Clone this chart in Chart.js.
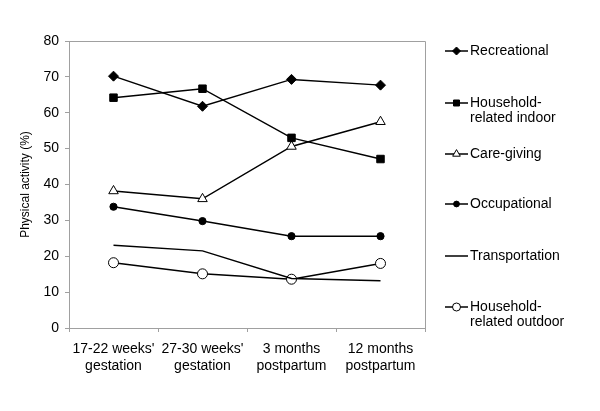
<!DOCTYPE html>
<html>
<head>
<meta charset="utf-8">
<script src="https://cdn.jsdelivr.net/npm/chart.js@4/dist/chart.umd.min.js"></script>
<style>
  html, body { margin: 0; padding: 0; background: #fff; }
  #wrap { width: 600px; height: 411px; }
</style>
</head>
<body>
<div id="wrap"><canvas id="chart" width="600" height="411"></canvas></div>
<script>
const categories = [["17-22 weeks'", "gestation"], ["27-30 weeks'", "gestation"], ["3 months", "postpartum"], ["12 months", "postpartum"]];
const recreational = [70.2, 61.8, 69.3, 67.7];
const householdIndoor = [64.2, 66.7, 53.0, 47.1];
const careGiving = [38.2, 36.0, 50.6, 57.5];
const occupational = [33.8, 29.8, 25.6, 25.6];
const transportation = [23.1, 21.5, 13.8, 13.2];
const householdOutdoor = [18.2, 15.1, 13.6, 18.0];
const yTicks = [0, 10, 20, 30, 40, 50, 60, 70, 80];

const legendNames = [["Recreational"], ["Household-", "related indoor"], ["Care-giving"], ["Occupational"], ["Transportation"], ["Household-", "related outdoor"]];
const legendY = [51, 103, 154, 204, 256, 307];

const font = "Liberation Sans, Arial, sans-serif";
const axisGray = "#a0a0a0";

function series(label, data, style, radius, fill) {
    return {
        label: label,
        data: data,
        borderColor: "#000",
        borderWidth: 1.5,
        pointStyle: style,
        pointRadius: radius,
        pointHoverRadius: radius,
        pointBackgroundColor: fill,
        pointBorderColor: "#000",
        pointBorderWidth: 1,
        tension: 0,
        fill: false
    };
}

// legend + top/right frame drawn by hand
const extras = {
    id: "extras",
    afterDraw(chart) {
        const ctx = chart.ctx;
        const a = chart.chartArea;
        ctx.save();
        ctx.strokeStyle = axisGray;
        ctx.lineWidth = 1;
        ctx.beginPath();
        ctx.moveTo(a.left, a.top + 0.5);
        ctx.lineTo(a.right + 0.5, a.top + 0.5);
        ctx.lineTo(a.right + 0.5, a.bottom);
        ctx.stroke();

        chart.data.datasets.forEach((ds, i) => {
            const y = legendY[i];
            ctx.strokeStyle = "#000";
            ctx.lineWidth = 1.5;
            ctx.beginPath();
            ctx.moveTo(445, y);
            ctx.lineTo(468, y);
            ctx.stroke();
            if (ds.pointRadius > 0) {
                ctx.fillStyle = ds.pointBackgroundColor;
                ctx.strokeStyle = "#000";
                ctx.lineWidth = 1;
                Chart.helpers.drawPoint(ctx, { pointStyle: ds.pointStyle, radius: ds.pointRadius * 0.8, borderWidth: 1 }, 456.5, y);
            }
            ctx.fillStyle = "#000";
            ctx.font = "14px " + font;
            ctx.textBaseline = "middle";
            ctx.textAlign = "left";
            legendNames[i].forEach((t, j) => ctx.fillText(t, 470, y + j * 15.5));
        });
        ctx.restore();
    }
};

new Chart(document.getElementById("chart"), {
    type: "line",
    data: {
        labels: categories,
        datasets: [
            series("Recreational", recreational, "rectRot", 5, "#000"),
            series("Household-related indoor", householdIndoor, "rect", 5.3, "#000"),
            series("Care-giving", careGiving, "triangle", 5.5, "#fff"),
            series("Occupational", occupational, "circle", 3.6, "#000"),
            series("Transportation", transportation, "circle", 0, "#000"),
            series("Household-related outdoor", householdOutdoor, "circle", 5, "#fff")
        ]
    },
    options: {
        responsive: false,
        animation: false,
        events: [],
        layout: { padding: { top: 41, right: 175, left: 0, bottom: 0 } },
        plugins: {
            legend: { display: false },
            tooltip: { enabled: false }
        },
        scales: {
            x: {
                offset: true,
                afterFit: s => { s.height = 83; },
                grid: { offset: true, drawOnChartArea: false, tickLength: 4, color: axisGray },
                border: { color: axisGray },
                ticks: { color: "#000", font: { family: font, size: 14, lineHeight: 1.2 }, maxRotation: 0, padding: 9 }
            },
            y: {
                min: 0,
                max: 80,
                afterFit: s => { s.width = 69; },
                afterBuildTicks: s => { s.ticks = yTicks.map(v => ({ value: v })); },
                grid: { drawOnChartArea: false, tickLength: 4, color: axisGray },
                border: { color: axisGray },
                ticks: { color: "#000", font: { family: font, size: 14 }, padding: 6 },
                title: { display: true, text: "Physical activity (%)", color: "#000", font: { family: font, size: 12 }, padding: { top: 18, bottom: 0 } }
            }
        }
    },
    plugins: [extras]
});
</script>
</body>
</html>
